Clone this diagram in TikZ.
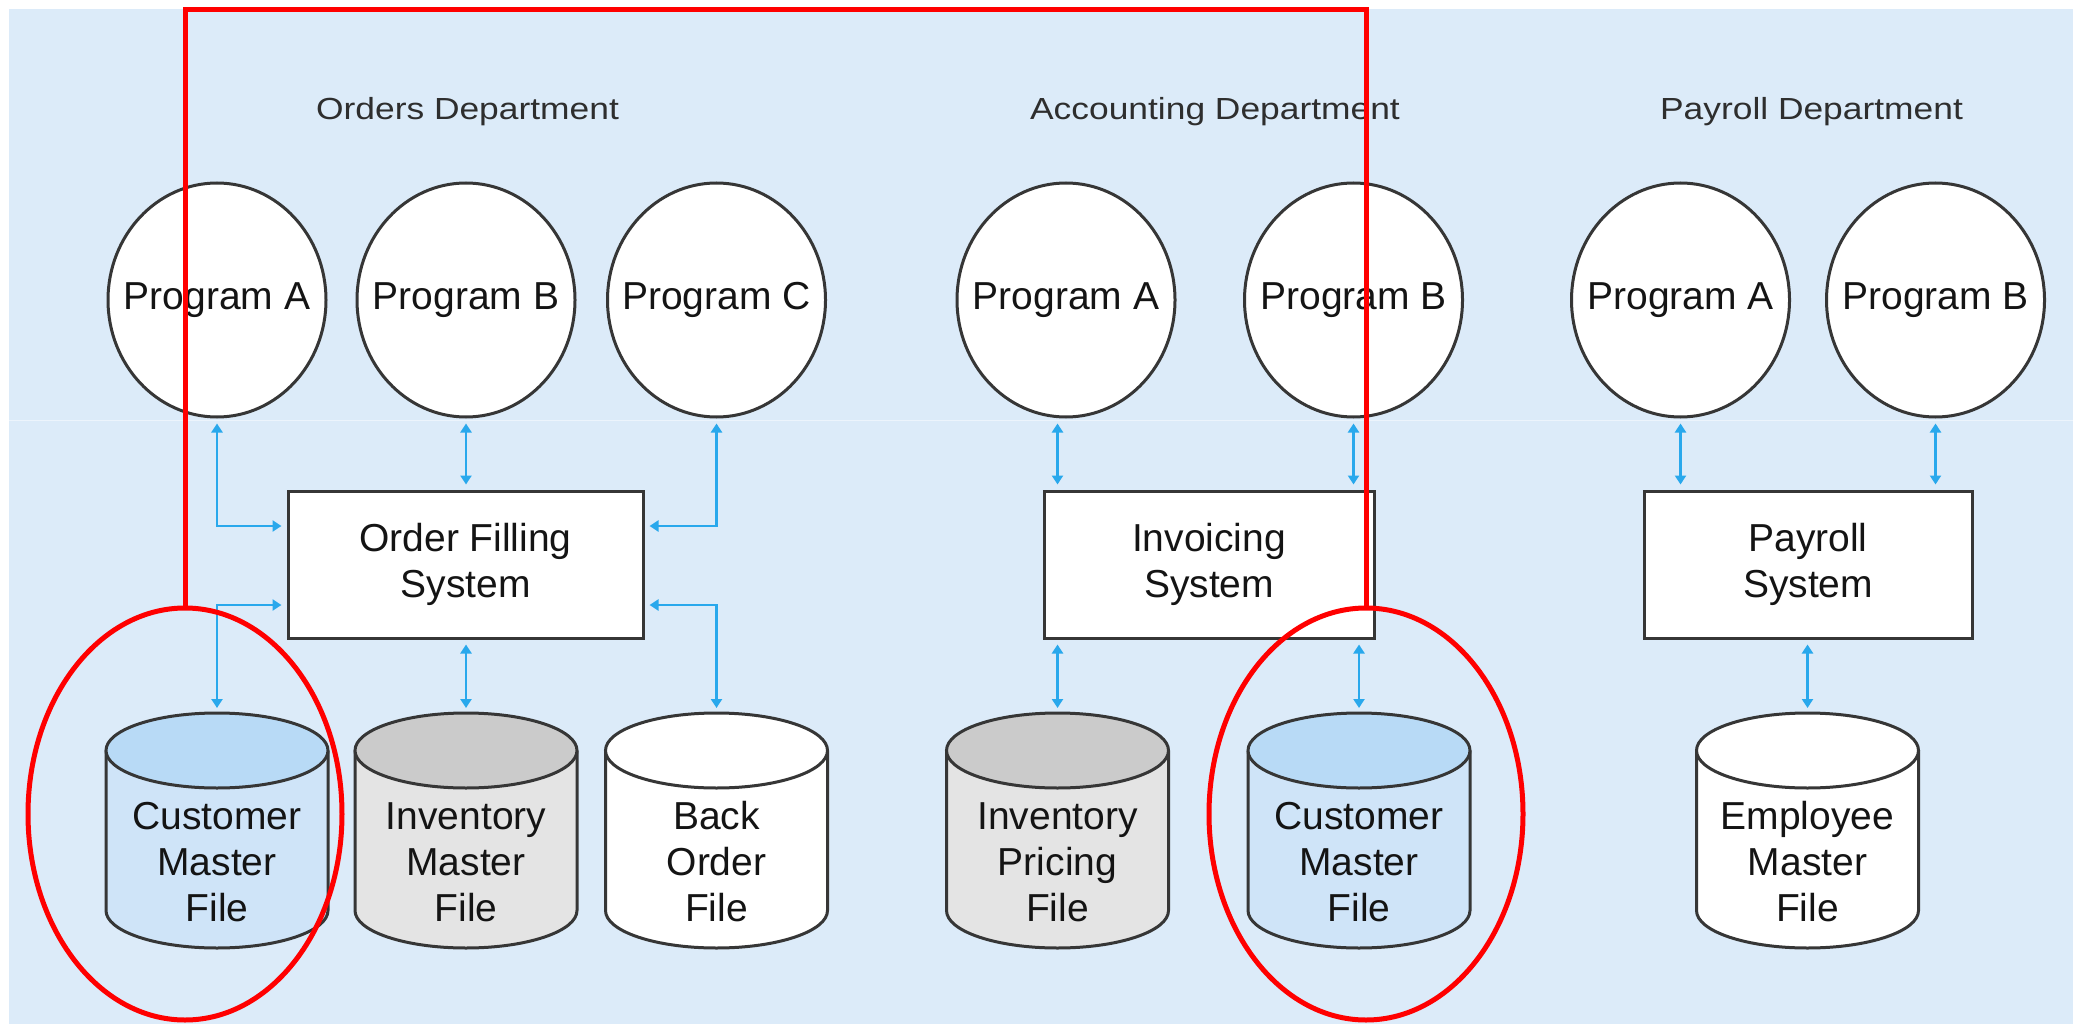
\documentclass[tikz,border=0pt]{standalone}
\usepackage{fontspec}
\setmainfont{Liberation Sans}
\newfontfamily\deptfont[FakeStretch=1.16]{Liberation Sans}
\usetikzlibrary{arrows.meta,shapes.geometric}
\definecolor{bgblue}{HTML}{DCEBF9}
\definecolor{lineg}{HTML}{363636}
\definecolor{txt}{HTML}{141414}
\definecolor{deptc}{HTML}{2E2E2E}
\definecolor{arrowc}{HTML}{29A8EC}
\definecolor{cbtop}{HTML}{B8DAF6}
\definecolor{cbbody}{HTML}{CFE4F8}
\definecolor{cgtop}{HTML}{CBCBCB}
\definecolor{cgbody}{HTML}{E4E4E4}
\definecolor{markred}{HTML}{FF0000}
\pgfdeclarelayer{under}
\pgfsetlayers{under,main}
\newcommand\pgtext[1]{\makebox[0pt][c]{#1}}
\tikzset{
  prog/.style={ellipse, draw=lineg, line width=3pt, fill=white,
    minimum width=218pt, minimum height=234pt, inner sep=0pt,
    font=\fontsize{39}{46}\selectfont, text=txt},
  sysbox/.style={rectangle, draw=lineg, line width=3pt, fill=white,
    minimum height=147pt, inner sep=0pt, align=center,
    font=\fontsize{39}{46}\selectfont, text=txt},
  cylnode/.style={rectangle, minimum width=222pt, minimum height=235pt,
    inner sep=0pt, outer sep=0pt},
  cyltext/.style={align=center, font=\fontsize{39}{46}\selectfont,
    text=txt, yshift=-31.5pt, inner sep=0pt},
  cylline/.style={draw=lineg, line width=3pt},
  dept/.style={font=\deptfont\fontsize{30.5}{36}\selectfont, text=deptc, inner sep=0pt},
  link/.style={draw=arrowc, line width=2.5pt,
    {Triangle[width=11pt,length=9pt]}-{Triangle[width=11pt,length=9pt]},
    shorten <=5pt, shorten >=5pt},
  redmark/.style={draw=markred, line width=5pt}
}
\newcommand\mycyl[3]{%
  \begin{pgfonlayer}{under}
    \path[fill=#2] ([yshift=-37.5pt]#1.north west) -- ([yshift=37.5pt]#1.south west)
      arc[start angle=180,end angle=360,x radius=111pt,y radius=37.5pt]
      -- ([yshift=-37.5pt]#1.north east) -- cycle;
    \draw[cylline] ([yshift=-37.5pt]#1.north west) -- ([yshift=37.5pt]#1.south west)
      arc[start angle=180,end angle=360,x radius=111pt,y radius=37.5pt]
      -- ([yshift=-37.5pt]#1.north east);
    \draw[cylline,fill=#3] ([yshift=-37.5pt]#1.north) ellipse[x radius=111pt,y radius=37.5pt];
  \end{pgfonlayer}}
\begin{document}
\begin{tikzpicture}[x=1pt,y=-1pt]
\useasboundingbox (0,0) rectangle (2074,1024);
\begin{pgfonlayer}{under}
  \fill[bgblue] (9,9) rectangle (2073,1024);
  \draw[draw=white!45!bgblue, line width=1pt] (9,420.5) -- (2073,420.5);
\end{pgfonlayer}

% department titles
\node[dept, anchor=base] (dO) at (467.5,120) {Orders Department};
\node[dept, anchor=base] (dA) at (1215,120) {Accounting Department};
\node[dept, anchor=base] (dP) at (1811.5,120) {Payroll Department};

% programs
\node[prog] (oA) at (217,300) {\pgtext{Program A}};
\node[prog] (oB) at (466,300) {\pgtext{Program B}};
\node[prog] (oC) at (716.5,300) {\pgtext{Program C}};
\node[prog] (aA) at (1066,300) {\pgtext{Program A}};
\node[prog] (aB) at (1353.5,300) {\pgtext{Program B}};
\node[prog] (pA) at (1680.5,300) {\pgtext{Program A}};
\node[prog] (pB) at (1935.5,300) {\pgtext{Program B}};

% systems
\node[sysbox, minimum width=355pt] (ofs) at (465.5,564.5) {Order Filling\\System};
\node[sysbox, minimum width=330pt] (inv) at (1209,564.5) {Invoicing\\System};
\node[sysbox, minimum width=328pt] (pay) at (1808,564.5) {Payroll\\System};

% files
\node[cylnode, label={[cyltext]center:{Customer\\Master\\File}}] (cm1) at (217,830.5) {};
\node[cylnode, label={[cyltext]center:{Inventory\\Master\\File}}] (im) at (466,830.5) {};
\node[cylnode, label={[cyltext]center:{Back\\Order\\File}}] (bo) at (716.5,830.5) {};
\node[cylnode, label={[cyltext]center:{Inventory\\Pricing\\File}}] (ip) at (1057.5,830.5) {};
\node[cylnode, label={[cyltext]center:{Customer\\Master\\File}}] (cm2) at (1359,830.5) {};
\node[cylnode, label={[cyltext]center:{Employee\\Master\\File}}] (em) at (1807.5,830.5) {};
\mycyl{cm1}{cbbody}{cbtop}
\mycyl{im}{cgbody}{cgtop}
\mycyl{bo}{white}{white}
\mycyl{ip}{cgbody}{cgtop}
\mycyl{cm2}{cbbody}{cbtop}
\mycyl{em}{white}{white}

% connectors: orders
\draw[link] (oA.south) |- ([yshift=38.5pt]ofs.west);
\draw[link] (oB.south) -- (oB.south |- ofs.north);
\draw[link] (oC.south) |- ([yshift=38.5pt]ofs.east);
\draw[link] ([yshift=-40.5pt]ofs.west) -| (cm1.north);
\draw[link] (im.north |- ofs.south) -- (im.north);
\draw[link] ([yshift=-40.5pt]ofs.east) -| (bo.north);
% accounting
\draw[link] (aA.south -| ip.north) -- (ip.north |- inv.north);
\draw[link] (aB.south) -- (aB.south |- inv.north);
\draw[link] (ip.north |- inv.south) -- (ip.north);
\draw[link] (cm2.north |- inv.south) -- (cm2.north);
% payroll
\draw[link] (pA.south) -- (pA.south |- pay.north);
\draw[link] (pB.south) -- (pB.south |- pay.north);
\draw[link] (em.north |- pay.south) -- (em.north);

% red annotation
\draw[redmark] (185.5,607) -- (185.5,9.5) -- (1366.5,9.5) -- (1366.5,607);
\draw[redmark] (185,814) ellipse[x radius=157pt, y radius=206pt];
\draw[redmark] (1366,814) ellipse[x radius=157pt, y radius=206pt];
\end{tikzpicture}
\end{document}
